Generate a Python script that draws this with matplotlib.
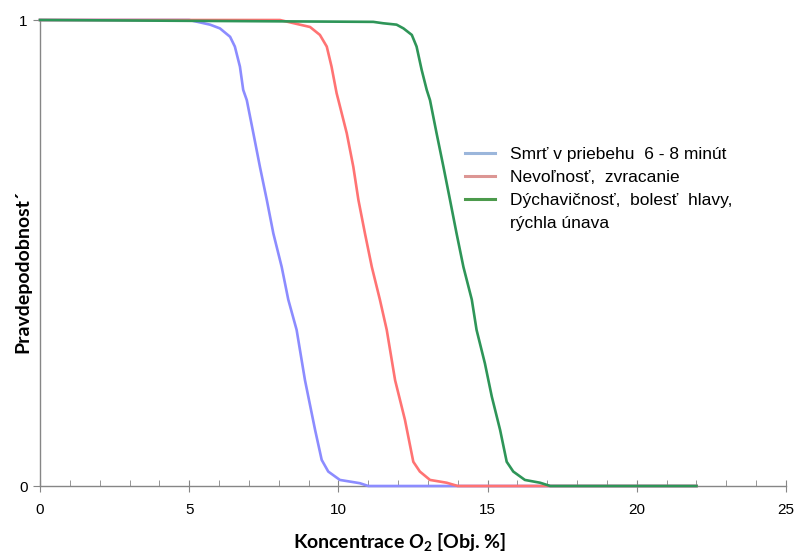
import matplotlib
matplotlib.use("Agg")
import matplotlib.pyplot as plt
from matplotlib.lines import Line2D
from matplotlib.ticker import MultipleLocator

plt.rcParams['font.family'] = ['Liberation Sans', 'DejaVu Sans']
plt.rcParams['mathtext.fontset'] = 'custom'
plt.rcParams['mathtext.bfit'] = 'Lato:bold:italic'
plt.rcParams['mathtext.bf'] = 'Lato:bold'
plt.rcParams['mathtext.rm'] = 'Lato:bold'

# ---- data ----
death_x = [0, 5.0, 5.7, 6.03, 6.37, 6.53, 6.70, 6.81, 6.93, 7.15, 7.37, 7.60, 7.82, 8.10,
           8.32, 8.60, 8.88, 9.22, 9.44, 9.66, 10.05, 10.72, 11.0, 22.0]
death_y = [1, 1.0, 0.99, 0.982, 0.964, 0.943, 0.90, 0.85, 0.828, 0.757, 0.685, 0.614, 0.542, 0.47,
           0.40, 0.335, 0.227, 0.12, 0.056, 0.031, 0.013, 0.006, 0.0, 0.0]

nausea_x = [0, 8.04, 8.71, 9.05, 9.38, 9.61, 9.77, 9.94, 10.0, 10.28, 10.50, 10.67, 10.89, 11.12,
            11.39, 11.62, 11.90, 12.23, 12.51, 12.73, 13.07, 13.63, 14.0, 22.0]
nausea_y = [1, 1.0, 0.99, 0.985, 0.968, 0.943, 0.90, 0.843, 0.828, 0.757, 0.685, 0.614, 0.542, 0.47,
            0.40, 0.335, 0.227, 0.142, 0.052, 0.031, 0.013, 0.007, 0.0, 0.0]

breath_x = [0, 11.17, 11.5, 11.95, 12.18, 12.46, 12.62, 12.79, 12.96, 13.07, 13.29, 13.52, 13.74,
            13.96, 14.19, 14.47, 14.63, 14.91, 15.14, 15.42, 15.64, 15.86, 16.25, 16.76, 17.1, 22.0]
breath_y = [1, 0.996, 0.993, 0.99, 0.982, 0.968, 0.943, 0.893, 0.85, 0.828, 0.757, 0.685, 0.614,
            0.542, 0.47, 0.40, 0.335, 0.263, 0.192, 0.12, 0.052, 0.031, 0.013, 0.007, 0.0, 0.0]

labels = ["Smrť v priebehu  6 - 8 minút",
          "Nevoľnosť,  zvracanie",
          "Dýchavičnosť,  bolesť  hlavy,",
          "rýchla únava"]
x_ticks = [0, 5, 10, 15, 20, 25]
y_ticks = [0, 1]

# ---- figure ----
fig = plt.figure(figsize=(7.97, 5.53), dpi=100)
ax = fig.add_axes([40/797, 67/553, 746/797, 466/553])

lw = 1.9
ax.plot(death_x, death_y, color='#8c8cff', lw=lw, clip_on=False, zorder=3)
ax.plot(nausea_x, nausea_y, color='#ff7373', lw=lw, clip_on=False, zorder=4)
ax.plot(breath_x, breath_y, color='#2e9558', lw=lw, clip_on=False, zorder=5)

ax.set_xlim(0, 25)
ax.set_ylim(0, 1)
ax.set_xticks(x_ticks)
ax.set_xticklabels([str(t) for t in x_ticks])
ax.xaxis.set_minor_locator(MultipleLocator(1))
ax.set_yticks(y_ticks)
ax.set_yticklabels([str(t) for t in y_ticks])

for s in ['top', 'right']:
    ax.spines[s].set_visible(False)
for s in ['left', 'bottom']:
    ax.spines[s].set_color('#868686')
    ax.spines[s].set_linewidth(1.0)

ax.tick_params(axis='x', which='major', direction='inout', length=8, color='#868686',
               labelsize=11, pad=8)
ax.tick_params(axis='x', which='minor', direction='in', length=4, color='#868686')
ax.tick_params(axis='y', which='major', direction='out', length=5, color='#868686',
               labelsize=11, pad=4)

ax.set_xlabel(r"Koncentrace $\mathbfit{O}_{\mathbf{2}}$ [Obj. %]", fontsize=14,
              fontweight='bold', family=['Lato', 'DejaVu Sans'])
ax.xaxis.set_label_coords(0.4826, -(543 - 486) / 466)
ax.xaxis.label.set_verticalalignment('center')
ax.set_ylabel("Pravdepodobnost´", fontsize=14, fontweight='bold',
              family=['Lato', 'DejaVu Sans'])
ax.yaxis.set_label_coords(-(40 - 23) / 746, (486 - 272) / 466)
ax.yaxis.label.set_verticalalignment('center')

handles = [Line2D([], [], color='#9bb6db', lw=2.2),
           Line2D([], [], color='#dc9694', lw=2.2),
           Line2D([], [], color='#4c9a4c', lw=2.2),
           Line2D([], [], color='none', lw=0)]
leg = ax.legend(handles, labels, loc='upper left', bbox_to_anchor=(0.56, 0.742),
                frameon=False, fontsize=12.5, handlelength=1.75, handletextpad=0.85,
                labelspacing=0.45, borderaxespad=0)

fig.savefig("out.png", dpi=100)
